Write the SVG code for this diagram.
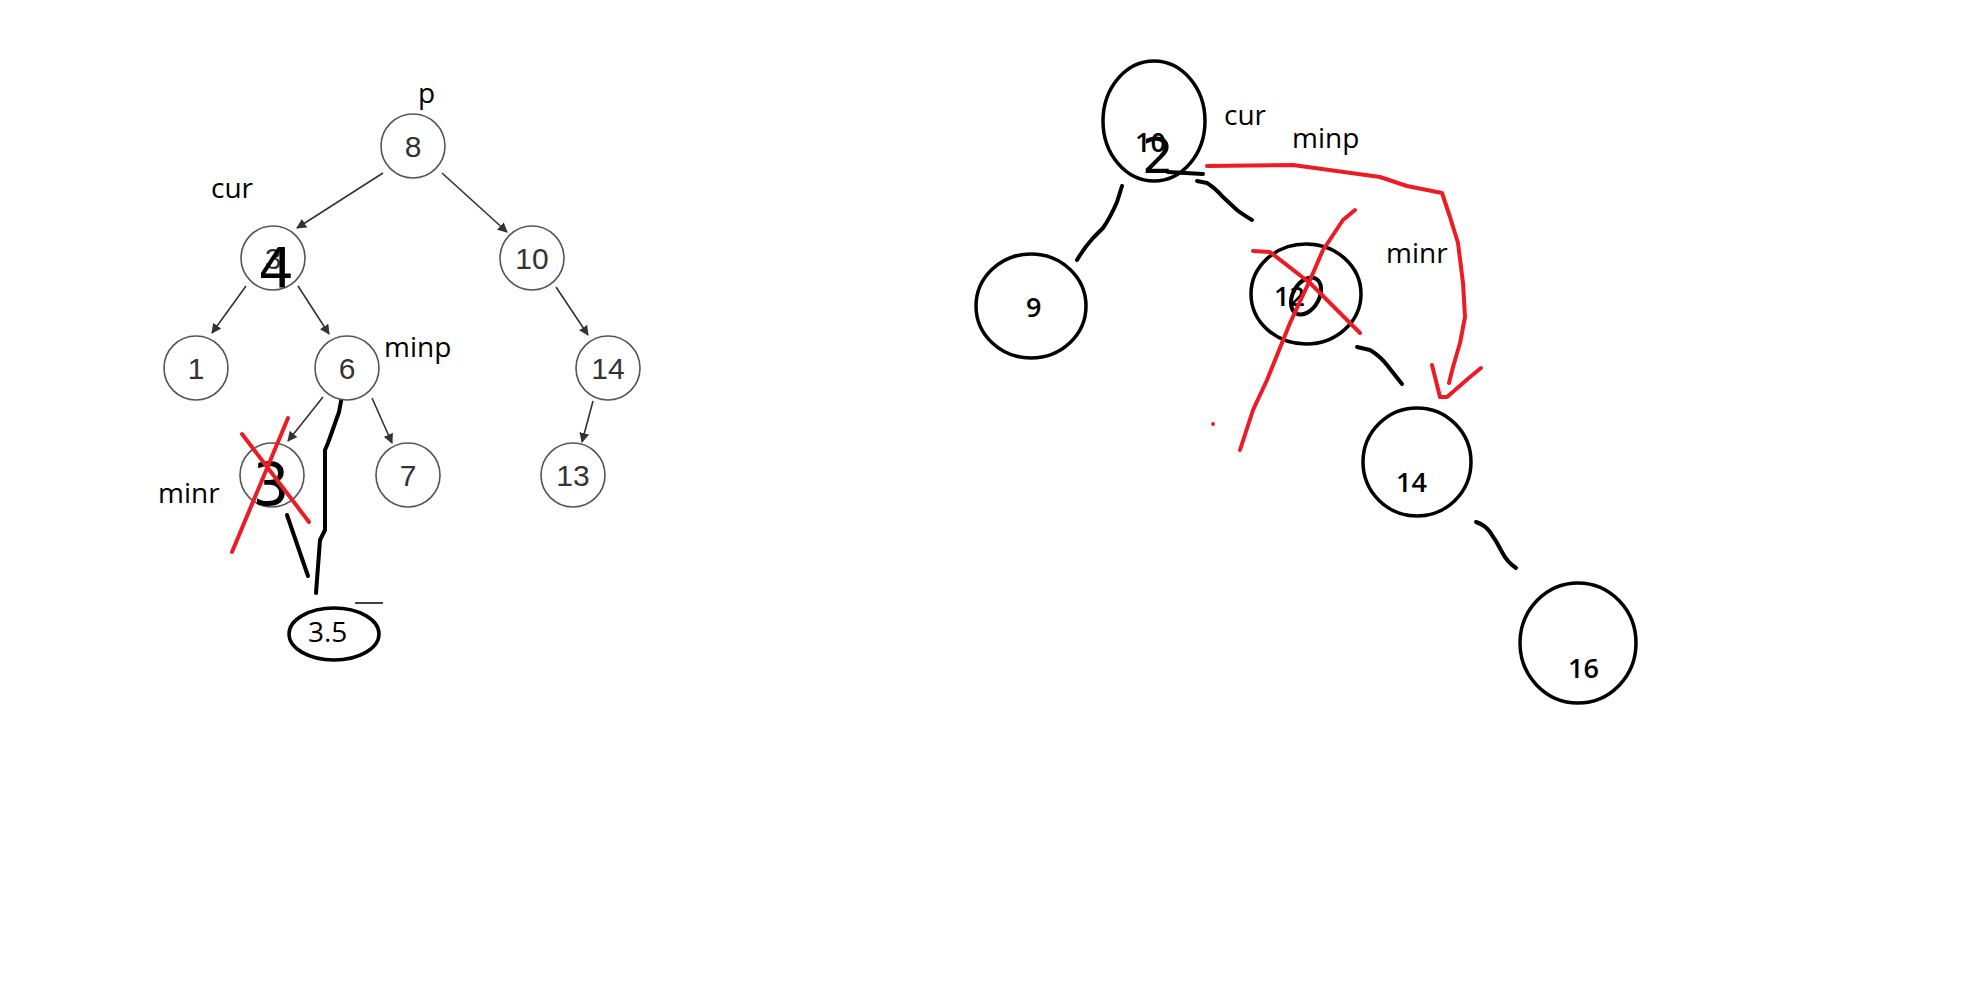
<svg xmlns="http://www.w3.org/2000/svg" width="1969" height="1002" viewBox="0 0 1969 1002">
<style>
.gn{fill:#fff;stroke:#555;stroke-width:1.6}
.gt{font-family:"Liberation Sans",Arial,sans-serif;font-size:30px;fill:#333;text-anchor:middle}
.ge{stroke:#333;stroke-width:1.6;fill:none;marker-end:url(#ah)}
.lb{font-family:"Open Sans","Noto Sans",sans-serif;font-size:28px;fill:#000}
.bn{fill:none;stroke:#000;stroke-width:3.5}
.bt{font-family:"Open Sans","Noto Sans",sans-serif;font-size:27px;font-weight:600;fill:#000}
.ink{fill:none;stroke:#000;stroke-width:4;stroke-linecap:round;stroke-linejoin:round}
.red{fill:none;stroke:#ed1c24;stroke-width:4;stroke-linecap:round;stroke-linejoin:round}
.hw{font-family:"DejaVu Sans",sans-serif;fill:#000;text-anchor:middle}
</style>
<defs>
<marker id="ah" viewBox="0 0 10 10" refX="9" refY="5" markerWidth="10" markerHeight="10" markerUnits="userSpaceOnUse" orient="auto">
<path d="M0,0 L10,5 L0,10 z" fill="#333"/>
</marker>
</defs>
<rect width="1969" height="1002" fill="#fff"/>
<g id="connectors">
<line class="ge" x1="383" y1="173" x2="297" y2="228"/>
<line class="ge" x1="442" y1="173" x2="507" y2="232"/>
<line class="ge" x1="246" y1="286" x2="212" y2="333"/>
<line class="ge" x1="298" y1="286" x2="329" y2="334"/>
<line class="ge" x1="556" y1="287" x2="588" y2="335"/>
<line class="ge" x1="323" y1="397" x2="288" y2="441"/>
<line class="ge" x1="372" y1="398" x2="392" y2="443"/>
<line class="ge" x1="593" y1="401" x2="582" y2="442"/>
<path class="ink" d="M342,396 L339,412 L328,443 L325,450 L325,530 L320,540 L316,593"/>
<path class="ink" d="M287,515 L308,576"/>
<line x1="355" y1="603" x2="383" y2="603" stroke="#000" stroke-width="1.5"/>
<path class="ink" d="M1122,186 L1117,202 Q1110,218 1103,228 L1093,238 Q1084,248 1077,260"/>
<path class="ink" d="M1197,181 L1207,183 Q1215,188 1223,197 L1237,210 Q1242,214 1252,220"/>
<path class="ink" d="M1357,347 L1370,350 Q1380,356 1387,365 L1402,384"/>
<path class="ink" d="M1476,522 Q1485,525 1490,532 Q1497,542 1502,552 Q1507,562 1516,568"/>
</g>
<g id="label-p"><text class="lb" x="418" y="103">p</text></g>
<g id="label-cur-left"><text class="lb" x="211" y="198">cur</text></g>
<g id="label-minp-left"><text class="lb" x="384" y="357">minp</text></g>
<g id="label-minr-left"><text class="lb" x="158" y="503">minr</text></g>
<g id="n8"><circle class="gn" cx="413" cy="146" r="32"/><text class="gt" x="413" y="157">8</text></g>
<g id="n4"><circle class="gn" cx="273" cy="258" r="32"/><text class="gt" x="273" y="269" fill="#666">3</text><text class="hw" x="276" y="287" font-size="56">4</text></g>
<g id="n10"><circle class="gn" cx="532" cy="258" r="32"/><text class="gt" x="532" y="269">10</text></g>
<g id="n1"><circle class="gn" cx="196" cy="368" r="32"/><text class="gt" x="196" y="379">1</text></g>
<g id="n6"><circle class="gn" cx="347" cy="368" r="32"/><text class="gt" x="347" y="379">6</text></g>
<g id="n14"><circle class="gn" cx="608" cy="368" r="32"/><text class="gt" x="608" y="379">14</text></g>
<g id="n3"><circle class="gn" cx="272" cy="475" r="32"/><text class="hw" x="271" y="505" font-size="58">3</text>
<line class="red" x1="242" y1="434" x2="309" y2="522"/><line class="red" x1="288" y1="418" x2="232" y2="552"/></g>
<g id="n7"><circle class="gn" cx="408" cy="475" r="32"/><text class="gt" x="408" y="486">7</text></g>
<g id="n13"><circle class="gn" cx="573" cy="475" r="32"/><text class="gt" x="573" y="486">13</text></g>
<g id="n35"><ellipse class="bn" cx="334" cy="634" rx="45" ry="26"/><text class="lb" x="308" y="642" font-size="27">3.5</text></g>

<g id="label-cur-right"><text class="lb" x="1224" y="125">cur</text></g>
<g id="label-minp-right"><text class="lb" x="1292" y="148">minp</text></g>
<g id="label-minr-right"><text class="lb" x="1386" y="263">minr</text></g>
<g id="r10"><ellipse class="bn" cx="1154" cy="121" rx="51" ry="60"/><text class="bt" x="1135" y="152">10</text>
<text class="hw" x="1158" y="173" font-size="50">2</text><path class="ink" d="M1168,172 L1203,174"/></g>
<g id="r9"><ellipse class="bn" cx="1031" cy="306" rx="55" ry="52"/><text class="bt" x="1026" y="317">9</text></g>
<g id="r12"><ellipse class="bn" cx="1306" cy="294" rx="55" ry="50"/><text class="bt" x="1274" y="306">12</text>
<ellipse class="ink" cx="1306" cy="296" rx="13" ry="20" transform="rotate(30 1306 296)"/>
<path class="red" d="M1253,251 L1270,252 L1310,283 L1360,333"/>
<path class="red" d="M1355,210 L1343,220 L1323,250 L1310,280 L1290,323 L1267,380 L1253,410 L1240,450"/>
<circle cx="1213" cy="424" r="2" fill="#ed1c24"/></g>
<g id="r14"><ellipse class="bn" cx="1417" cy="462" rx="54" ry="54"/><text class="bt" x="1396" y="492">14</text></g>
<g id="r16"><ellipse class="bn" cx="1578" cy="643" rx="58" ry="60"/><text class="bt" x="1568" y="678">16</text></g>
<g id="red-arrow">
<path class="red" d="M1207,166 L1293,165 L1380,177 L1407,186 L1442,193 L1450,217 L1458,243 L1463,283 L1465,317 L1460,343 L1453,367 L1449,383"/>
<path class="red" d="M1432,365 L1440,397 L1447,397 L1470,377 L1481,368"/>
</g>
</svg>
